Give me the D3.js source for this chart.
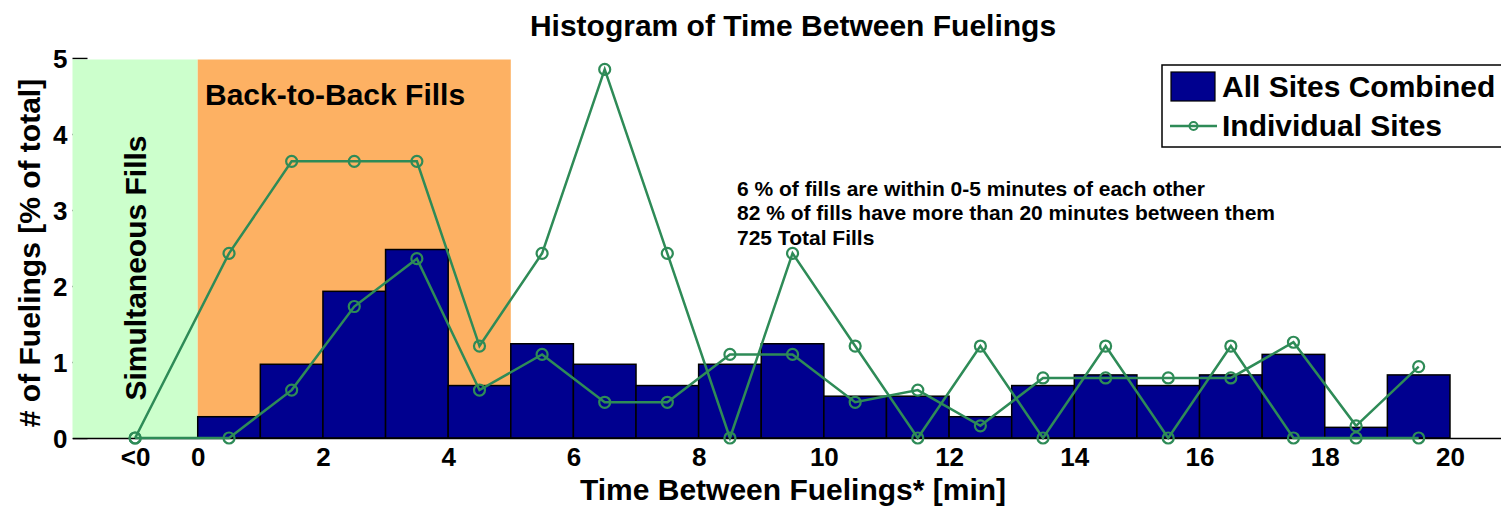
<!DOCTYPE html>
<html>
<head>
<meta charset="utf-8">
<script src="https://cdn.jsdelivr.net/npm/d3@7"></script>
<style>
  html, body { margin: 0; padding: 0; background: #fff; }
  svg { display: block; }
  text { font-family: "Liberation Sans", Arial, sans-serif; font-weight: bold; fill: #000; }
</style>
</head>
<body>
<svg id="chart" width="1501" height="507"></svg>
<script>
// ---- data ----
const binCenters = [-1, 0.5, 1.5, 2.5, 3.5, 4.5, 5.5, 6.5, 7.5, 8.5, 9.5, 10.5, 11.5, 12.5, 13.5, 14.5, 15.5, 16.5, 17.5, 18.5, 19.5];
const allSitesCombined = [0, 0.28, 0.97, 1.93, 2.48, 0.69, 1.24, 0.97, 0.69, 0.97, 1.24, 0.55, 0.55, 0.28, 0.69, 0.83, 0.69, 0.83, 1.10, 0.14, 0.83];
const siteA = [0, 2.43, 3.64, 3.64, 3.64, 1.21, 2.43, 4.85, 2.43, 0, 2.43, 1.21, 0, 1.21, 0, 1.21, 0, 1.21, 0, 0, 0];
const siteB = [0, 0, 0.63, 1.73, 2.36, 0.63, 1.10, 0.47, 0.47, 1.10, 1.10, 0.47, 0.63, 0.16, 0.79, 0.79, 0.79, 0.79, 1.26, 0.16, 0.94];
const xTickValues = [-1, 0, 2, 4, 6, 8, 10, 12, 14, 16, 18, 20];
const xTickLabels = ["<0", "0", "2", "4", "6", "8", "10", "12", "14", "16", "18", "20"];
const yTickValues = [0, 1, 2, 3, 4, 5];
const regions = [
  { label: "Simultaneous Fills", from: -2, to: 0, color: "#ccffcc" },
  { label: "Back-to-Back Fills", from: 0, to: 5, color: "#fdb163" }
];
const annotationLines = [
  "6 % of fills are within 0-5 minutes of each other",
  "82 % of fills have more than 20 minutes between them",
  "725 Total Fills"
];
const legendLabels = ["All Sites Combined", "Individual Sites"];
const titleText = "Histogram of Time Between Fuelings";
const xLabelText = "Time Between Fuelings* [min]";
const yLabelText = "# of Fuelings [% of total]";

// ---- layout ----
const svg = d3.select("#chart");
const x = d3.scaleLinear().domain([-2, 21]).range([72.5, 1512.6]);
const y = d3.scaleLinear().domain([0, 5]).range([438, 58]);
const barColor = "#00008f";
const lineColor = "#2e8b57";

// axes (drawn first so patches cover the inner ticks like the reference)
const yAxis = d3.axisLeft(y).tickValues(yTickValues).tickSizeInner(-15).tickSizeOuter(0).tickPadding(20).tickFormat(d3.format("d"));
const gy = svg.append("g").attr("transform", `translate(${x(-2)},0)`).call(yAxis);
gy.select(".domain").remove();
gy.selectAll(".tick line").attr("stroke", "#000").attr("stroke-width", 1.5);
gy.selectAll(".tick text").attr("font-size", 26).attr("x", -5).attr("dy", "0.36em");

// region patches
svg.append("g").selectAll("rect").data(regions).join("rect")
  .attr("x", d => x(d.from)).attr("width", d => x(d.to) - x(d.from))
  .attr("y", y(5) + 1.5).attr("height", y(0) - y(5) - 1.5)
  .attr("fill", d => d.color);

// bars
const barData = binCenters.map((c, i) => ({ c, v: allSitesCombined[i] }));
svg.append("g").selectAll("rect").data(barData).join("rect")
  .attr("x", d => x(d.c - 0.5)).attr("width", d => x(d.c + 0.5) - x(d.c - 0.5))
  .attr("y", d => y(d.v)).attr("height", d => y(0) - y(d.v))
  .attr("fill", barColor).attr("stroke", "#000").attr("stroke-width", 1.5);

// x axis
const xAxis = d3.axisBottom(x).tickValues(xTickValues).tickSize(0).tickPadding(10)
  .tickFormat((d, i) => xTickLabels[i]);
const gx = svg.append("g").attr("transform", `translate(0,${y(0)})`).call(xAxis);
gx.select(".domain").attr("stroke", "#000").attr("stroke-width", 1.5);
gx.selectAll(".tick text").attr("font-size", 26);

// lines
const line = d3.line().x(d => x(d.c)).y(d => y(d.v));
[siteA, siteB].forEach(series => {
  const pts = binCenters.map((c, i) => ({ c, v: series[i] }));
  svg.append("path").datum(pts).attr("d", line)
    .attr("fill", "none").attr("stroke", lineColor).attr("stroke-width", 2.5);
  svg.append("g").selectAll("circle").data(pts).join("circle")
    .attr("cx", d => x(d.c)).attr("cy", d => y(d.v)).attr("r", 5.5)
    .attr("fill", "none").attr("stroke", lineColor).attr("stroke-width", 2.2);
});

// region labels
svg.append("text").attr("transform", `translate(146,268) rotate(-90)`)
  .attr("text-anchor", "middle").attr("font-size", 30).text(regions[0].label);
svg.append("text").attr("x", 205).attr("y", 105).attr("font-size", 30).text(regions[1].label);

// annotation
svg.append("g").selectAll("text").data(annotationLines).join("text")
  .attr("x", 737).attr("y", (d, i) => 196 + i * 24.3)
  .attr("font-size", 21).text(d => d);

// title and axis labels
svg.append("text").attr("x", 793).attr("y", 36).attr("text-anchor", "middle").attr("font-size", 30).text(titleText);
svg.append("text").attr("x", 793).attr("y", 500).attr("text-anchor", "middle").attr("font-size", 30).text(xLabelText);
svg.append("text").attr("transform", "translate(40,253) rotate(-90)").attr("text-anchor", "middle").attr("font-size", 30).text(yLabelText);

// legend
const lg = svg.append("g");
lg.append("rect").attr("x", 1162).attr("y", 65).attr("width", 360).attr("height", 82)
  .attr("fill", "#fff").attr("stroke", "#000").attr("stroke-width", 1.5);
lg.append("rect").attr("x", 1171).attr("y", 72).attr("width", 44).attr("height", 29)
  .attr("fill", barColor).attr("stroke", "#000").attr("stroke-width", 1.2);
lg.append("line").attr("x1", 1170).attr("x2", 1217).attr("y1", 126).attr("y2", 126)
  .attr("stroke", lineColor).attr("stroke-width", 2.5);
lg.append("circle").attr("cx", 1193.5).attr("cy", 126).attr("r", 4)
  .attr("fill", "none").attr("stroke", lineColor).attr("stroke-width", 2);
lg.selectAll("text.lbl").data(legendLabels).join("text").attr("class", "lbl")
  .attr("x", 1222).attr("y", (d, i) => 97 + i * 39).attr("font-size", 30).text(d => d);
</script>
</body>
</html>
